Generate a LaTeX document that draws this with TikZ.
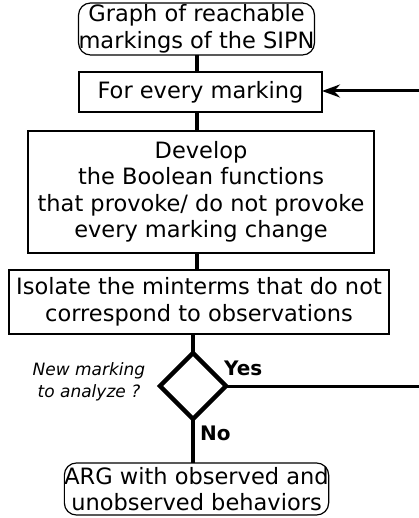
\documentclass[tikz,border=0pt]{standalone}
\usepackage{fontspec}
\setmainfont{DejaVu Sans}
\usetikzlibrary{shapes.geometric,arrows.meta}
\tikzset{
  boxtext/.style={font=\fontsize{22.5}{26.5}\selectfont, align=center, inner sep=0pt, outer sep=0pt},
  procbox/.style={boxtext, draw, line width=1.2pt},
  termbox/.style={procbox, rounded corners=12pt},
  decision/.style={diamond, draw, line width=4.5pt, inner sep=0pt, outer sep=0pt, minimum width=66pt, minimum height=66pt},
  flow/.style={line width=4pt},
  loopline/.style={line width=3pt},
  answer/.style={font=\fontsize{20}{22}\selectfont\bfseries, inner sep=0pt},
  question/.style={font=\fontsize{17}{22}\selectfont\itshape, align=center, inner sep=0pt}
}
\begin{document}
\begin{tikzpicture}[x=1pt,y=-1pt]
\clip (0,0) rectangle (419,518);
\fill[white] (0,0) rectangle (419,518);

\node[termbox, minimum width=225pt, minimum height=52pt] (graph) at (196.5,29) {Graph of reachable\\markings of the SIPN};
\node[procbox, minimum width=243pt, minimum height=40pt] (every) at (200.5,92) {For every marking};
\node[procbox, minimum width=346pt, minimum height=122pt] (develop) at (201,192) {Develop\\the Boolean functions\\that provoke/ do not provoke\\every marking change};
\node[procbox, minimum width=380pt, minimum height=64pt] (isolate) at (199,302) {Isolate the minterms that do not\\correspond to observations};
\node[decision] (newmk) at (193,386) {};
\node[termbox, minimum width=251pt, minimum height=52pt] (arg) at (196.5,489) {ARG with observed and\\unobserved behaviors};

\node[question] (qlabel) at (89,382) {New marking\\to analyze ?};
\node[answer, anchor=west] (yes) at (224,368) {Yes};
\node[answer, anchor=west] (no) at (200,433) {No};

% main flow
\draw[flow] (graph.south -| 197,0) -- (every.north -| 197,0);
\draw[flow] (every.south -| 197,0) -- (develop.north -| 197,0);
\draw[flow] (develop.south -| 197,0) -- (isolate.north -| 197,0);
\draw[flow] (isolate.south -| newmk.north) -- (newmk.north);
\draw[flow] (newmk.south) -- (newmk.south |- arg.north);

% loop back for the next marking
\coordinate (loopbot) at (428,386);
\coordinate (looptop) at (428,91);
\draw[loopline, -{Stealth[length=18pt,width=13pt,inset=6pt]}]
  (newmk.east) -- (loopbot) -- (looptop) -- (every.east |- looptop);
\end{tikzpicture}
\end{document}
